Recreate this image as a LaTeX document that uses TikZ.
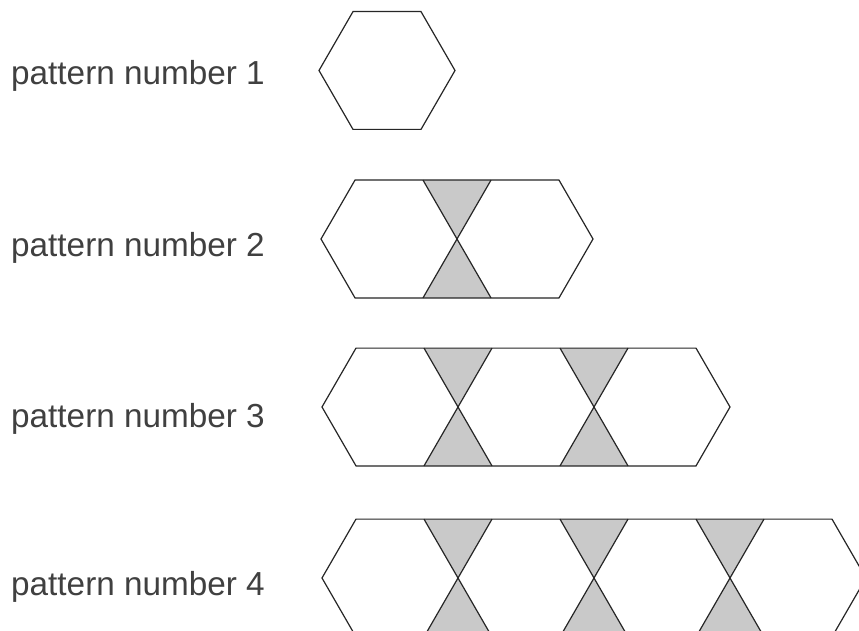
\documentclass[tikz,border=0pt]{standalone}
\usepackage{fontspec}
\setmainfont{Liberation Sans}
\tikzset{
  outl/.style={draw=black!85, line width=1.2pt, line join=miter},
  tri/.style={fill=black!21},
  lbl/.style={anchor=base west, inner sep=0pt, font=\fontsize{33.3}{40}\selectfont, text=black!75}
}
\newcommand\hexrow[3]{%
  \pgfmathsetmacro\hxa{#2+34}%
  \pgfmathsetmacro\hxb{#2+136*#1-34}%
  \pgfmathsetmacro\hxr{#2+136*#1}%
  \pgfmathsetmacro\hyt{#3-58.9}%
  \pgfmathsetmacro\hyb{#3+58.9}%
  \pgfmathtruncatemacro\hm{#1-1}%
  \ifnum#1>1
    \foreach \k in {1,...,\hm}{%
      \pgfmathsetmacro\cx{#2+136*\k}%
      \fill[tri] (\cx-34,\hyt) -- (\cx+34,\hyt) -- (\cx,#3) -- cycle;
      \fill[tri] (\cx-34,\hyb) -- (\cx+34,\hyb) -- (\cx,#3) -- cycle;
      \draw[outl] (\cx-34,\hyt) -- (\cx+34,\hyb);
      \draw[outl] (\cx+34,\hyt) -- (\cx-34,\hyb);
    }%
  \fi
  \draw[outl] (\hxa,\hyt) -- (#2,#3) -- (\hxa,\hyb) -- (\hxb,\hyb) -- (\hxr,#3) -- (\hxb,\hyt) -- cycle;
}
\begin{document}
\begin{tikzpicture}[x=1pt,y=-1pt]
\useasboundingbox (0,0) rectangle (859,631);
\clip (0,0) rectangle (859,631);
\fill[white] (0,0) rectangle (859,631);
\node[lbl] (l1) at (11,85) {pattern number 1};
\node[lbl] (l2) at (11,256.5) {pattern number 2};
\node[lbl] (l3) at (11,427.5) {pattern number 3};
\node[lbl] (l4) at (11,595.5) {pattern number 4};
\hexrow{1}{319}{70.5}
\hexrow{2}{321}{239}
\hexrow{3}{322}{407}
\hexrow{4}{322}{578}
\end{tikzpicture}
\end{document}
